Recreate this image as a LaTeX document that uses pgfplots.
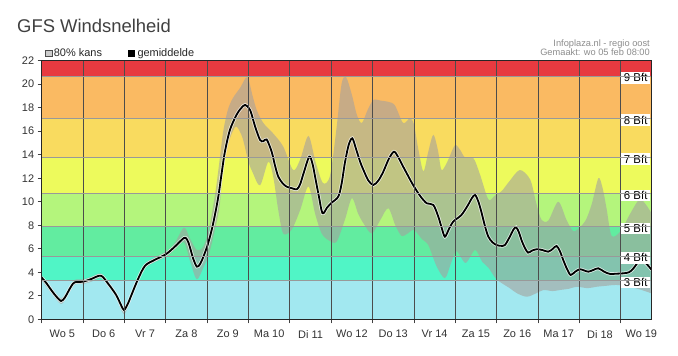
\documentclass[border=0pt]{standalone}
\usepackage{pgfplots}
\pgfplotsset{compat=1.18}
\usepgfplotslibrary{fillbetween}
\usepackage{fontspec}
\setmainfont{Liberation Sans}
\definecolor{bRed}{RGB}{231,58,64}
\definecolor{bOrange}{RGB}{250,186,98}
\definecolor{bYelOr}{RGB}{249,219,95}
\definecolor{bYellow}{RGB}{237,250,92}
\definecolor{bLGreen}{RGB}{180,245,124}
\definecolor{bGreen}{RGB}{98,236,160}
\definecolor{bAqua}{RGB}{80,245,198}
\definecolor{bBlue}{RGB}{162,232,240}
\definecolor{bandGray}{RGB}{165,162,158}
\definecolor{titleGray}{RGB}{64,64,64}
\definecolor{infoGray}{RGB}{140,140,140}
\begin{document}
\begin{tikzpicture}
\begin{axis}[
  name=ax, at={(0,0)}, anchor=south west,
  scale only axis, width=610bp, height=258.6bp,
  xmin=0, xmax=14.75, ymin=0, ymax=22,
  axis on top,
  fill between/on layer=main,
  axis line style={color=black!85, line width=0.8bp},
  tick align=outside, tick pos=left,
  major tick length=4bp,
  tick style={color=black!75, line width=0.7bp},
  ytick={0,2,...,22},
  xtick={0,1,...,14}, xticklabels={},
  xmajorgrids, major grid style={color=black!70, line width=0.7bp},
  extra x ticks={0.5,1.5,...,14.5},
  extra x tick labels={Wo 5,Do 6,Vr 7,Za 8,Zo 9,Ma 10,Di 11,Wo 12,Do 13,Vr 14,Za 15,Zo 16,Ma 17,Di 18,Wo 19},
  extra x tick style={grid=none, tick style={draw=none}, xticklabel style={yshift=-3.5bp}},
  extra y ticks={3.3,5.4,7.9,10.7,13.8,17.1,20.7},
  extra y tick labels={},
  extra y tick style={grid=major, tick style={draw=none}, major grid style={color=black!40, line width=0.6bp}},
  ticklabel style={font=\fontsize{11}{12}\selectfont, color=black!80},
  /pgf/number format/assume math mode=true,
]
% Beaufort bands
\fill[bBlue] (axis cs:0,0) rectangle (axis cs:14.75,3.3);
\fill[bAqua] (axis cs:0,3.3) rectangle (axis cs:14.75,5.4);
\fill[bGreen] (axis cs:0,5.4) rectangle (axis cs:14.75,7.9);
\fill[bLGreen] (axis cs:0,7.9) rectangle (axis cs:14.75,10.7);
\fill[bYellow] (axis cs:0,10.7) rectangle (axis cs:14.75,13.8);
\fill[bYelOr] (axis cs:0,13.8) rectangle (axis cs:14.75,17.1);
\fill[bOrange] (axis cs:0,17.1) rectangle (axis cs:14.75,20.7);
\fill[bRed] (axis cs:0,20.7) rectangle (axis cs:14.75,22);

% 80% band
\addplot[name path=up, draw=none, smooth] coordinates {
(0.00,3.75)(0.23,2.70)(0.47,1.80)(0.64,2.55)(0.80,3.35)(1.00,3.40)(1.20,3.62)(1.43,3.90)
(1.60,3.25)(1.80,2.25)(1.99,1.00)(2.17,2.25)(2.33,3.60)(2.50,4.75)(2.73,5.25)(3.00,5.75)
(3.21,6.45)(3.44,7.80)(3.58,6.90)(3.75,5.90)(3.91,6.20)(4.05,7.80)(4.20,10.80)(4.30,13.50)
(4.39,16.00)(4.50,17.80)(4.62,18.80)(4.80,19.70)(4.97,20.60)(5.10,19.00)(5.20,17.80)(5.36,16.70)
(5.60,15.80)(5.84,14.70)(6.08,12.70)(6.25,13.60)(6.45,15.60)(6.62,13.40)(6.80,11.60)(6.97,12.20)
(7.12,16.00)(7.25,20.00)(7.36,20.60)(7.50,19.10)(7.62,17.40)(7.74,16.70)(7.88,17.80)(8.02,18.66)
(8.20,18.60)(8.38,18.50)(8.54,18.20)(8.74,16.70)(8.90,17.10)(9.00,16.60)(9.10,14.60)(9.23,12.60)
(9.35,14.30)(9.47,15.70)(9.58,14.40)(9.67,12.70)(9.82,13.50)(9.99,14.80)(10.12,14.40)(10.23,13.80)
(10.44,13.70)(10.60,12.30)(10.80,10.20)(10.95,10.50)(11.12,10.90)(11.30,11.70)(11.56,12.70)(11.81,11.90)
(11.95,10.00)(12.08,8.50)(12.25,8.40)(12.49,10.00)(12.69,8.45)(12.85,7.50)(12.97,7.70)(13.15,8.40)
(13.30,9.80)(13.46,12.00)(13.56,11.20)(13.66,9.40)(13.78,7.10)(14.00,7.50)(14.20,8.80)(14.45,10.20)
(14.60,9.80)(14.75,9.00)};
\addplot[name path=lo, draw=none, smooth] coordinates {
(0.00,3.30)(0.23,2.25)(0.47,1.30)(0.64,2.10)(0.80,2.95)(1.00,3.00)(1.20,3.20)(1.43,3.50)
(1.60,2.85)(1.80,1.85)(1.99,0.45)(2.17,1.85)(2.33,3.20)(2.50,4.35)(2.73,4.85)(3.00,5.30)
(3.21,5.90)(3.44,6.55)(3.60,4.80)(3.75,3.40)(3.91,4.40)(4.05,5.60)(4.20,7.80)(4.30,9.60)
(4.39,12.80)(4.50,14.80)(4.62,16.00)(4.71,16.40)(4.85,15.50)(5.00,13.40)(5.10,12.50)(5.28,11.40)
(5.48,13.40)(5.60,12.10)(5.72,9.30)(5.84,7.30)(6.04,7.60)(6.25,9.30)(6.45,11.30)(6.61,9.00)
(6.77,7.30)(6.95,6.70)(7.13,6.60)(7.33,8.45)(7.50,10.30)(7.65,9.00)(7.78,8.17)(7.98,7.30)
(8.18,8.40)(8.38,9.45)(8.55,8.00)(8.70,7.10)(8.85,7.30)(9.00,7.60)(9.20,6.80)(9.35,6.30)
(9.55,4.50)(9.75,3.50)(9.90,4.80)(10.03,5.80)(10.25,4.80)(10.48,5.90)(10.65,4.90)(10.80,4.40)
(11.00,3.40)(11.32,2.64)(11.50,2.20)(11.73,1.92)(11.95,2.20)(12.13,2.49)(12.35,2.40)(12.53,2.49)
(12.75,2.60)(12.94,2.77)(13.20,2.65)(13.42,2.77)(13.65,2.85)(13.90,2.92)(14.22,2.77)(14.50,2.50)
(14.75,2.20)};
\addplot[bandGray, fill opacity=0.6, draw=none] fill between[of=up and lo];

% mean
\pgfplotstableread{
x y
0.00 3.55
0.12 3.05
0.23 2.49
0.35 1.95
0.47 1.56
0.56 1.85
0.64 2.35
0.72 2.85
0.80 3.15
1.00 3.20
1.20 3.43
1.43 3.71
1.60 3.06
1.80 2.07
1.92 1.20
1.99 0.79
2.08 1.30
2.17 2.07
2.33 3.43
2.50 4.56
2.73 5.05
3.00 5.53
3.21 6.15
3.44 6.92
3.52 6.75
3.58 6.18
3.66 5.20
3.75 4.48
3.83 4.70
3.91 5.33
4.01 6.30
4.11 7.60
4.19 8.90
4.27 10.43
4.35 12.40
4.43 14.26
4.55 16.10
4.71 17.39
4.82 17.95
4.92 18.24
5.04 17.80
5.16 16.40
5.28 15.26
5.36 15.15
5.44 15.30
5.56 14.26
5.64 13.10
5.72 12.14
5.82 11.60
5.92 11.29
6.05 11.15
6.17 11.06
6.25 11.50
6.33 12.40
6.47 13.84
6.55 13.20
6.61 12.14
6.70 10.50
6.79 9.02
6.90 9.50
7.01 9.92
7.17 10.43
7.25 11.50
7.33 13.28
7.42 14.80
7.51 15.40
7.60 14.50
7.70 13.40
7.78 12.70
7.90 11.80
8.02 11.43
8.14 11.80
8.26 12.56
8.40 13.70
8.52 14.26
8.62 13.80
8.74 12.99
8.86 12.20
8.98 11.43
9.15 10.50
9.31 9.87
9.47 9.73
9.59 8.73
9.67 7.80
9.75 7.03
9.85 7.70
9.95 8.31
10.15 8.88
10.31 9.73
10.40 10.30
10.48 10.58
10.56 10.00
10.64 9.02
10.72 7.90
10.80 7.03
10.90 6.55
11.00 6.32
11.10 6.25
11.20 6.32
11.32 7.03
11.40 7.60
11.47 7.83
11.54 7.40
11.60 6.75
11.68 6.10
11.76 5.67
11.86 5.85
11.97 5.96
12.10 5.90
12.25 5.75
12.36 6.00
12.45 6.24
12.53 5.80
12.61 5.05
12.70 4.30
12.79 3.77
12.90 4.05
13.01 4.26
13.12 4.15
13.22 4.05
13.34 4.20
13.46 4.34
13.60 4.05
13.74 3.86
13.90 3.88
14.06 3.91
14.20 4.00
14.30 4.30
14.42 4.85
14.50 5.00
14.60 4.80
14.68 4.50
14.75 4.20
}\meandata
\addplot[white, opacity=0.75, line width=3.4bp, smooth] table {\meandata};
\addplot[black, line width=1.8bp, smooth] table {\meandata};

\coordinate (b9) at (axis cs:14.75,20.7);
\coordinate (b8) at (axis cs:14.75,17.1);
\coordinate (b7) at (axis cs:14.75,13.8);
\coordinate (b6) at (axis cs:14.75,10.7);
\coordinate (b5) at (axis cs:14.75,7.9);
\coordinate (b4) at (axis cs:14.75,5.4);
\coordinate (b3) at (axis cs:14.75,3.3);
\end{axis}

% Beaufort labels
\tikzset{bft/.style={fill=white, anchor=north east, inner xsep=2.5bp, inner ysep=0bp,
  minimum height=11.7bp, text height=8.4bp, text depth=0.5bp, minimum width=27.3bp,
  font=\fontsize{11.5}{12}\selectfont, text=black}}
\foreach \n in {9,8,7,6,5,4,3}{
  \node[bft] at ([xshift=-1.5bp, yshift=4bp]b\n) {\n\ Bft};
}

% title
\node[anchor=base west, inner sep=0, text=titleGray, font=\fontsize{18.5}{20}\selectfont]
  at ([shift={(-24.7bp,287bp)}]ax.south west) {GFS Windsnelheid};

% legend
\draw[draw=black!70, fill=black!20, line width=0.7bp]
  ([shift={(3.6bp,262.6bp)}]ax.south west) rectangle ([shift={(10.2bp,269.2bp)}]ax.south west);
\node[anchor=base west, inner sep=0, font=\fontsize{11}{12}\selectfont, text=black!85]
  at ([shift={(12bp,262.3bp)}]ax.south west) {80\% kans};
\fill[black]
  ([shift={(86.3bp,262.3bp)}]ax.south west) rectangle ([shift={(93.3bp,269.3bp)}]ax.south west);
\node[anchor=base west, inner sep=0, font=\fontsize{11}{12}\selectfont, text=black!85]
  at ([shift={(95.6bp,262.3bp)}]ax.south west) {gemiddelde};

% info text
\node[anchor=base east, inner sep=0, font=\fontsize{9.3}{10}\selectfont, text=infoGray]
  at ([shift={(608.3bp,272.6bp)}]ax.south west) {Infoplaza.nl - regio oost};
\node[anchor=base east, inner sep=0, font=\fontsize{9.3}{10}\selectfont, text=infoGray]
  at ([shift={(608.3bp,263.3bp)}]ax.south west) {Gemaakt: wo 05 feb 08:00};

\pgfresetboundingbox
\path[use as bounding box] ([shift={(-41.7bp,-36.7bp)}]ax.south west) rectangle ([shift={(636.3bp,319.3bp)}]ax.south west);
\end{tikzpicture}
\end{document}
